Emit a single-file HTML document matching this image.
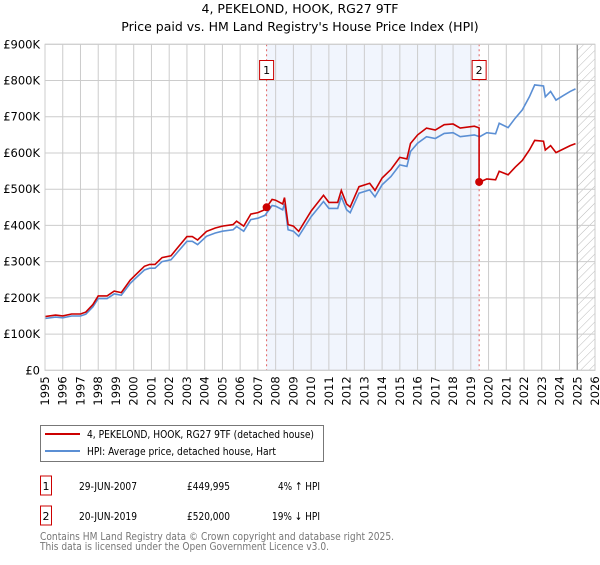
<!DOCTYPE html>
<html><head><meta charset="utf-8">
<style>
body{margin:0;background:#fff;font-family:"Liberation Sans","DejaVu Sans",sans-serif;}
svg text{font-family:"DejaVu Sans","Liberation Sans",sans-serif;}
</style></head>
<body>
<svg id="chart" width="600" height="560" xmlns="http://www.w3.org/2000/svg">
<defs>
<pattern id="hatch" width="6" height="6" patternUnits="userSpaceOnUse" patternTransform="rotate(45)">
<line x1="0" y1="0" x2="0" y2="6" stroke="#bbb" stroke-width="1"/>
</pattern>
</defs>
<text x="300" y="13" text-anchor="middle" font-size="12.5" fill="#000">4, PEKELOND, HOOK, RG27 9TF</text>
<text x="300" y="31" text-anchor="middle" font-size="12.5" fill="#000">Price paid vs. HM Land Registry's House Price Index (HPI)</text>
<g id="plot"></g>
<g>
<rect x="40.5" y="425.5" width="283" height="36" fill="#fff" stroke="#777"/>
<line x1="45" y1="434" x2="80" y2="434" stroke="#cc0000" stroke-width="2"/>
<text x="87" y="438" font-size="11" fill="#000" textLength="227" lengthAdjust="spacingAndGlyphs">4, PEKELOND, HOOK, RG27 9TF (detached house)</text>
<line x1="45" y1="451" x2="80" y2="451" stroke="#5b8fd4" stroke-width="2"/>
<text x="87" y="455" font-size="11" fill="#000" textLength="189" lengthAdjust="spacingAndGlyphs">HPI: Average price, detached house, Hart</text>
</g>
<g font-size="11" fill="#000">
<rect x="40.5" y="476" width="11" height="19" fill="#fff" stroke="#cc0000"/>
<text x="46" y="490" text-anchor="middle">1</text>
<text x="79" y="490" textLength="58" lengthAdjust="spacingAndGlyphs">29-JUN-2007</text>
<text x="187" y="490" textLength="43" lengthAdjust="spacingAndGlyphs">£449,995</text>
<text x="278" y="490" textLength="42" lengthAdjust="spacingAndGlyphs">4% ↑ HPI</text>
</g>
<g font-size="11" fill="#000">
<rect x="40.5" y="506" width="11" height="19" fill="#fff" stroke="#cc0000"/>
<text x="46" y="520" text-anchor="middle">2</text>
<text x="79" y="520" textLength="58" lengthAdjust="spacingAndGlyphs">20-JUN-2019</text>
<text x="187" y="520" textLength="43" lengthAdjust="spacingAndGlyphs">£520,000</text>
<text x="272" y="520" textLength="48" lengthAdjust="spacingAndGlyphs">19% ↓ HPI</text>
</g>
<text x="40" y="540" font-size="11" fill="#777" textLength="354" lengthAdjust="spacingAndGlyphs">Contains HM Land Registry data © Crown copyright and database right 2025.</text>
<text x="40" y="550" font-size="11" fill="#777" textLength="289" lengthAdjust="spacingAndGlyphs">This data is licensed under the Open Government Licence v3.0.</text>
</svg>
<script>
const hpiYears=[1995.0,1995.6,1996.0,1996.5,1997.0,1997.3,1997.7,1998.0,1998.5,1998.9,1999.3,1999.8,2000.1,2000.6,2000.9,2001.2,2001.6,2002.1,2002.5,2003.0,2003.3,2003.6,2004.1,2004.6,2005.0,2005.6,2005.8,2006.2,2006.6,2007.0,2007.4,2007.8,2008.0,2008.4,2008.5,2008.7,2009.0,2009.3,2010.0,2010.7,2011.0,2011.5,2011.7,2012.0,2012.2,2012.7,2013.3,2013.6,2014.0,2014.5,2015.0,2015.4,2015.6,2016.0,2016.5,2017.0,2017.5,2018.0,2018.4,2019.2,2019.5,2019.9,2020.4,2020.6,2021.1,2021.5,2021.9,2022.3,2022.6,2023.1,2023.2,2023.5,2023.8,2024.2,2024.6,2024.9];
const hpiValues=[143,147,145,150,150,155,175,198,198,211,207,240,254,277,282,282,300,305,328,356,356,347,370,379,384,388,397,384,416,420,428,455,453,443,460,388,384,370,424,466,447,447,479,443,435,489,498,479,512,535,567,563,604,627,645,640,654,656,645,650,645,656,653,682,670,696,719,755,788,785,755,770,746,758,770,777];
const saleYears=[2007.49,2019.47];
const salePrices=[449995,520000];
const saleLabels=["1","2"];
const yTicks=[0,100,200,300,400,500,600,700,800,900];
const yTickLabels=["£0","£100K","£200K","£300K","£400K","£500K","£600K","£700K","£800K","£900K"];
const xTicks=[1995,1996,1997,1998,1999,2000,2001,2002,2003,2004,2005,2006,2007,2008,2009,2010,2011,2012,2013,2014,2015,2016,2017,2018,2019,2020,2021,2022,2023,2024,2025,2026];

const X0=45,X1=595,Y0=370.3,Y1=44.3;
const xs=y=>X0+(y-1995)/31*(X1-X0);
const ys=v=>Y0-(v/900)*(Y0-Y1);
const NS='http://www.w3.org/2000/svg';
const plot=document.getElementById('plot');
function mk(tag,attrs,parent){const e=document.createElementNS(NS,tag);for(const k in attrs)e.setAttribute(k,attrs[k]);(parent||plot).appendChild(e);return e;}
function hpiAt(t){for(let i=0;i<hpiYears.length-1;i++){if(t>=hpiYears[i]&&t<=hpiYears[i+1]){const f=(t-hpiYears[i])/(hpiYears[i+1]-hpiYears[i]);return hpiValues[i]+f*(hpiValues[i+1]-hpiValues[i]);}}return hpiValues[hpiValues.length-1];}

const shade=mk('rect',{x:xs(saleYears[0]),y:Y1,width:xs(saleYears[1])-xs(saleYears[0]),height:Y0-Y1,fill:'#eef3fc',opacity:0.8});


const lastYear=2025.0;
const hatch=mk('rect',{x:xs(lastYear),y:Y1,width:X1-xs(lastYear),height:Y0-Y1,fill:'url(#hatch)'});



xTicks.forEach(t=>{const l=mk('line',{x1:xs(t),x2:xs(t),y1:Y1,y2:Y0,stroke:'#ccc','stroke-width':1});


const tx=mk('text',{x:0,y:0,'font-size':11.5,fill:'#000','text-anchor':'end',transform:`translate(${xs(t)+4},${Y0+6}) rotate(-90)`});tx.textContent=t;

});
yTicks.forEach((v,i)=>{const l=mk('line',{x1:X0,x2:X1,y1:ys(v),y2:ys(v),stroke:'#ccc','stroke-width':1});


const tx=mk('text',{x:40,y:ys(v)+4,'font-size':11.5,fill:'#000','text-anchor':'end'});tx.textContent=yTickLabels[i];

});
mk('line',{x1:xs(lastYear),x2:xs(lastYear),y1:Y1,y2:Y0,stroke:'#888','stroke-width':1.2});

saleYears.forEach((s,i)=>{const l=mk('line',{x1:xs(s),x2:xs(s),y1:Y1,y2:Y0,stroke:'#e06060','stroke-width':1,'stroke-dasharray':'2,3'});


const b=mk('rect',{x:xs(s)-7,y:60.5,width:14,height:19,fill:'#fff',stroke:'#cc0000'});


const t=mk('text',{x:xs(s),y:74,'font-size':11,'text-anchor':'middle',fill:'#000'});t.textContent=saleLabels[i];});

const hp=mk('path',{d:hpiYears.map((y,i)=>(i?'L':'M')+xs(y).toFixed(1)+','+ys(hpiValues[i]).toFixed(1)).join(''),fill:'none',stroke:'#5b8fd4','stroke-width':1.6});



const r1=salePrices[0]/1000/hpiAt(saleYears[0]);
const r2=salePrices[1]/1000/hpiAt(saleYears[1]);
let pts=[];
hpiYears.forEach((y,i)=>{if(y<saleYears[1])pts.push([y,hpiValues[i]*r1]);});
pts.push([saleYears[1],hpiAt(saleYears[1])*r1]);
pts.push([saleYears[1],salePrices[1]/1000]);
hpiYears.forEach((y,i)=>{if(y>saleYears[1])pts.push([y,hpiValues[i]*r2]);});
const rp=mk('path',{d:pts.map((p,i)=>(i?'L':'M')+xs(p[0]).toFixed(1)+','+ys(p[1]).toFixed(1)).join(''),fill:'none',stroke:'#cc0000','stroke-width':1.6});


saleYears.forEach((s,i)=>{const c=mk('circle',{cx:xs(s),cy:ys(salePrices[i]/1000),r:4,fill:'#cc0000'});

});
mk('rect',{x:X0,y:Y1,width:X1-X0,height:Y0-Y1,fill:'none',stroke:'#ccc'});
</script>
</body></html>
